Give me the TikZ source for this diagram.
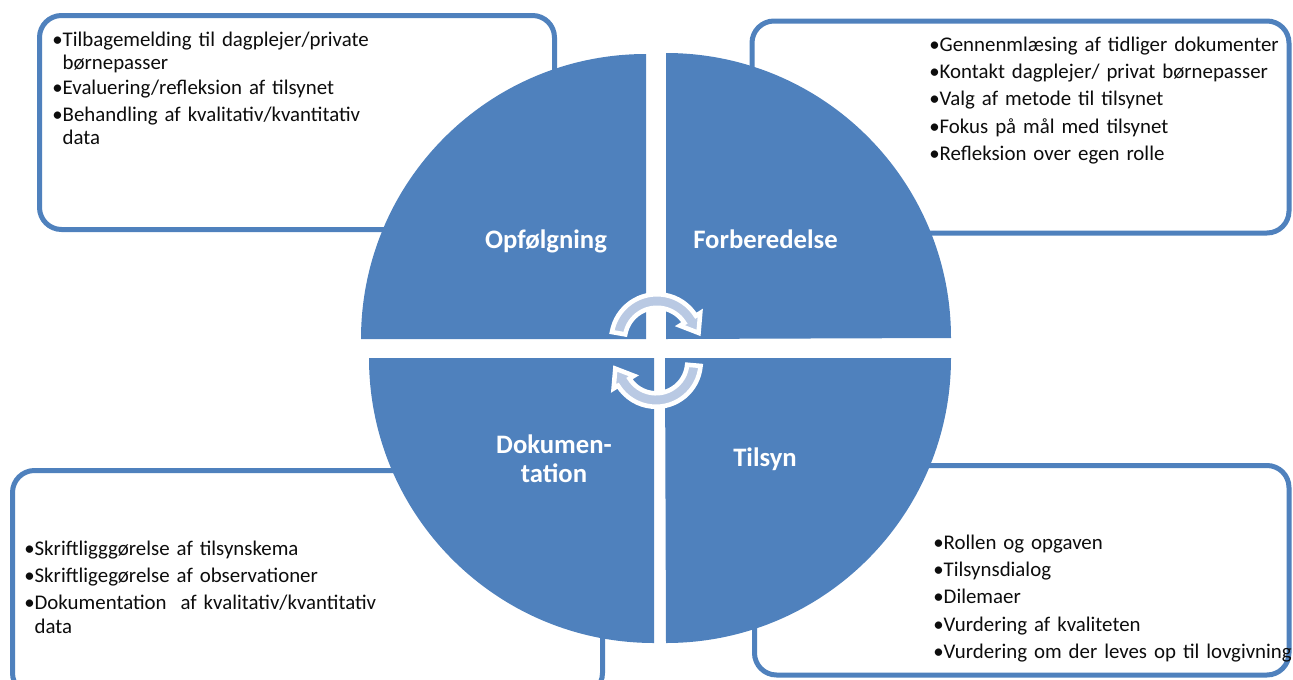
\documentclass[tikz,border=0pt]{standalone}
\usepackage{fontspec}
\setmainfont{Carlito}
\usetikzlibrary{calc}
\definecolor{qblue}{RGB}{79,129,189}
\definecolor{arrowfill}{RGB}{185,201,227}
\definecolor{txt}{RGB}{13,13,13}
\newlength{\bind}\setlength{\bind}{7.8pt}
\newcommand{\bitem}[1]{\par\noindent\rule{0pt}{12pt}\makebox[\bind][l]{\textbullet}\parbox[t]{\dimexpr\linewidth-\bind\relax}{\raggedright #1}\par}
\begin{document}
\begin{tikzpicture}[x=0.75pt,y=-0.75pt,
  box/.style={draw=qblue, line width=3.75pt, fill=white, rounded corners=16.5pt},
  quad/.style={fill=qblue},
  lab/.style={text=white, font=\fontsize{20}{21.75}\selectfont\bfseries, align=center, inner sep=0pt, anchor=base},
  body/.style={text=txt, font=\fontsize{15.65}{17.4}\selectfont, text width=#1, align=left, inner sep=0pt, anchor=north west, execute at begin node={\setlength{\parskip}{3pt}}},
  cyc/.style={fill=arrowfill, draw=white, line width=3.4pt, line join=miter}]
\useasboundingbox (0,0) rectangle (1293,679);
\clip (0,0) rectangle (1293,679);
% boxes
\draw[box] (39.5,15.5) rectangle (554.5,229.5);
\draw[box] (752,21) rectangle (1289,233);
\draw[box] (12.5,470.5) rectangle (602.5,695);
\draw[box] (754.5,465.5) rectangle (1289,675);
% quadrants
\fill[quad] (646,339) -- ++(-285,0) arc[start angle=180,end angle=270,radius=285] -- cycle;
\fill[quad] (666,339) -- ++(0,-286) arc[start angle=270,end angle=360,radius=285] -- cycle;
\fill[quad] (665,358) -- ++(286,0) arc[start angle=0,end angle=90,radius=285] -- cycle;
\fill[quad] (654,358) -- ++(0,285) arc[start angle=90,end angle=180,radius=285] -- cycle;
% labels
\node[lab] (opf) at (546,248) {Opfølgning};
\node[lab] (forb) at (765.5,248) {Forberedelse};
\node[lab] (dok) at (554,482) {Dokumen-\\tation};
\node[lab] (tils) at (765,466) {Tilsyn};
% cycle arrows
\coordinate (ca) at (657,340);
\coordinate (cb) at (656,362);
\path[cyc] ($(ca)+(-170:45.75)$) arc[start angle=-170,end angle=-32,radius=45.75]
  -- ($(ca)+(-32:51)$) -- ($(ca)+(-32:39)+(58:16)$) -- ($(ca)+(-32:27)$)
  -- ($(ca)+(-32:32.25)$) arc[start angle=-32,end angle=-170,radius=32.25] -- cycle;
\path[cyc] ($(cb)+(5:44.75)$) arc[start angle=5,end angle=148,radius=44.75]
  -- ($(cb)+(148:50)$) -- ($(cb)+(148:38)+(238:16)$) -- ($(cb)+(148:26)$)
  -- ($(cb)+(148:31.25)$) arc[start angle=148,end angle=5,radius=31.25] -- cycle;
% texts
\node[body=250pt] (tltext) at (52,19) {\bitem{Tilbagemelding til dagplejer/private\\børnepasser}\bitem{Evaluering/refleksion af tilsynet}\bitem{Behandling af kvalitativ/kvantitativ\\data}};
\node[body=270pt] (trtext) at (929,24) {\bitem{Gennenmlæsing af tidliger dokumenter}\bitem{Kontakt dagplejer/ privat børnepasser}\bitem{Valg af metode til tilsynet}\bitem{Fokus på mål med tilsynet}\bitem{Refleksion over egen rolle}};
\node[body=280pt] (bltext) at (24,528) {\bitem{Skriftligggørelse af tilsynskema}\bitem{Skriftligegørelse af observationer}\bitem{Dokumentation\ \ af kvalitativ/kvantitativ\\data}};
\node[body=280pt] (brtext) at (933,522) {\bitem{Rollen og opgaven}\bitem{Tilsynsdialog}\bitem{Dilemaer}\bitem{Vurdering af kvaliteten}\bitem{Vurdering om der leves op til lovgivning}};
\end{tikzpicture}
\end{document}
